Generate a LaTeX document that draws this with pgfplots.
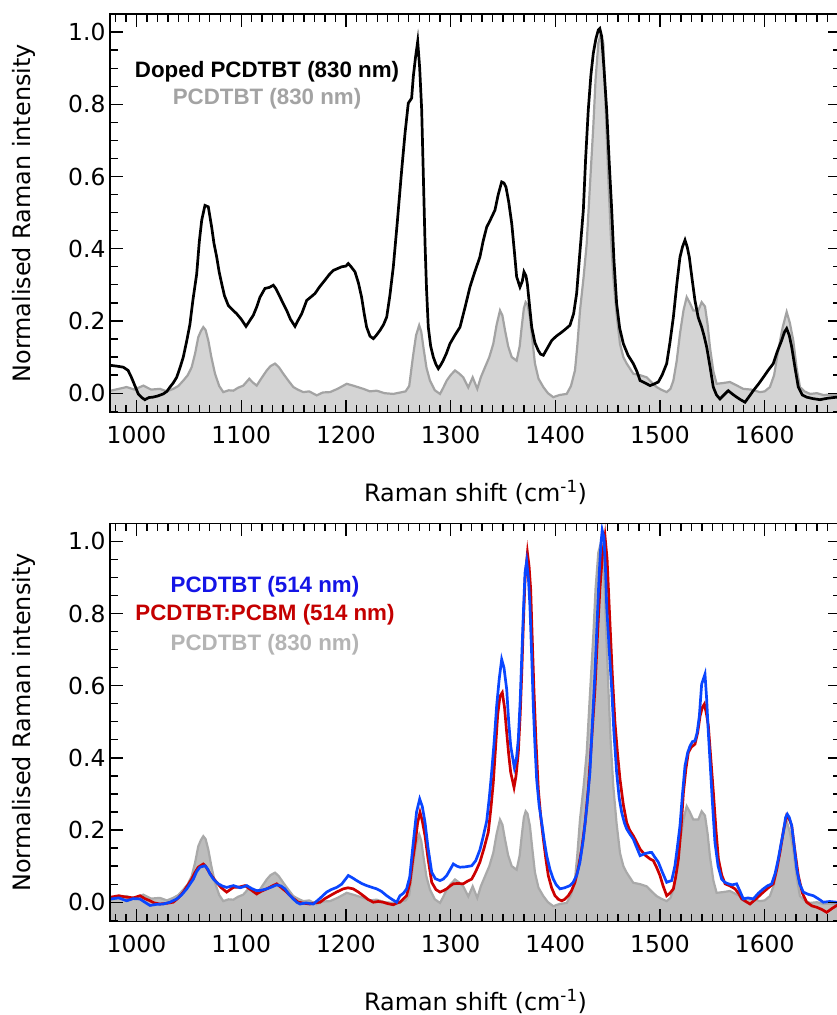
\documentclass[border=0pt]{standalone}
\usepackage{pgfplots}
\usepackage{pgfplotstable}
\pgfplotsset{compat=1.18}
\usepackage{fontspec}
\setmainfont{DejaVu Sans}
\newfontfamily\arialfont{Liberation Sans}
\definecolor{gfillT}{HTML}{D4D4D4}
\definecolor{glineT}{HTML}{A3A3A3}
\definecolor{gfillB}{HTML}{BDBDBD}
\definecolor{glineB}{HTML}{A9A9A9}
\definecolor{bline}{HTML}{0A46FF}
\definecolor{btext}{HTML}{1414E6}
\definecolor{rline}{HTML}{CC0000}
\definecolor{rtext}{HTML}{C40000}
\definecolor{gtextT}{HTML}{A3A3A3}
\definecolor{gtextB}{HTML}{B4B4B4}

\pgfplotstableread{
x y
975.6 0.007
983 0.012
990.6 0.017
998 0.010
1006.5 0.021
1014 0.010
1022.4 0.012
1029 0.005
1035.1 0.012
1040 0.020
1044.7 0.035
1049 0.050
1052.7 0.072
1056 0.110
1059 0.155
1061.5 0.172
1063.8 0.183
1066 0.175
1068.6 0.146
1071.5 0.100
1075 0.054
1079 0.020
1082.9 0.003
1088 0.008
1092.5 0.007
1097 0.015
1102 0.021
1107.7 0.040
1111 0.030
1114.8 0.021
1119 0.040
1124.4 0.063
1128 0.075
1132.3 0.082
1136 0.072
1140.2 0.054
1145 0.035
1149.8 0.017
1154 0.010
1159.3 0.003
1165 0.005
1172.1 -0.006
1178 0.002
1184.8 0.003
1192 0.012
1200.8 0.026
1208 0.020
1216.7 0.012
1223 0.005
1229.4 0.007
1237 0.000
1245.3 -0.002
1252 0.002
1257 0.005
1260.5 0.020
1264 0.100
1267 0.160
1270 0.188
1272 0.170
1274 0.128
1277 0.070
1280.3 0.035
1285 0.008
1289.9 -0.002
1293 0.015
1296.3 0.035
1300 0.050
1304.2 0.063
1308 0.055
1312.1 0.044
1316.9 0.016
1321.1 0.044
1325.5 0.012
1329 0.045
1332.9 0.072
1337 0.100
1340.8 0.137
1344 0.190
1347.2 0.229
1349.5 0.215
1352 0.174
1355 0.130
1358.4 0.100
1363.1 0.090
1366 0.130
1367.9 0.183
1370 0.235
1371.7 0.252
1373.5 0.245
1375.8 0.211
1378 0.150
1380.6 0.082
1384 0.040
1388.6 0.017
1393 0.000
1398.1 -0.011
1404 -0.005
1410.9 -0.002
1415 0.020
1418.8 0.063
1421 0.130
1423.6 0.229
1427 0.320
1430 0.414
1433 0.570
1436.3 0.738
1438.5 0.870
1441.1 0.969
1443.5 0.995
1445.9 0.970
1448 0.800
1450.6 0.600
1453 0.440
1455.4 0.322
1458.5 0.220
1461.8 0.137
1465 0.100
1468.2 0.082
1474.5 0.054
1481 0.050
1487.3 0.044
1492 0.030
1496.8 0.017
1501 0.010
1506.4 0.003
1510 0.012
1512.8 0.035
1516 0.090
1519.1 0.165
1522.5 0.230
1525.5 0.266
1528.5 0.250
1531.8 0.229
1536.6 0.229
1539.8 0.252
1543 0.240
1545.5 0.190
1547.7 0.128
1551 0.060
1554.1 0.026
1560 0.028
1566.8 0.031
1573 0.022
1579.5 0.012
1587 0.010
1595.5 0.003
1600 0.005
1605 0.017
1609 0.050
1612.9 0.118
1617 0.180
1621 0.225
1624 0.195
1627.3 0.146
1630.5 0.070
1633.7 0.017
1638 0.005
1643.3 -0.002
1650 0.000
1656 -0.005
1662 -0.004
1668.8 -0.006
1674 -0.004
}\graydata

\pgfplotstableread{
x y
975.6 0.077
981 0.075
987.4 0.072
992 0.063
995 0.045
997 0.031
1001.7 -0.002
1005 -0.012
1008 -0.018
1012 -0.012
1015.6 -0.011
1020 -0.008
1025.6 -0.002
1029 0.005
1032 0.017
1035 0.028
1038.4 0.044
1041.5 0.070
1044.7 0.100
1048 0.145
1051 0.190
1054 0.260
1057.5 0.330
1060 0.420
1062.3 0.479
1065.4 0.520
1068.6 0.516
1071.8 0.460
1074 0.415
1076.6 0.377
1079 0.335
1081.4 0.303
1084 0.270
1087.7 0.243
1092 0.230
1095.7 0.220
1100 0.205
1104.6 0.185
1108 0.200
1111.6 0.216
1115 0.240
1118 0.266
1122.7 0.290
1127 0.293
1130.7 0.299
1133 0.290
1135.5 0.276
1139 0.255
1143.5 0.229
1147 0.205
1151.4 0.185
1154 0.200
1157.8 0.220
1162.6 0.257
1166 0.265
1170.5 0.276
1175 0.295
1180 0.313
1184 0.328
1188 0.340
1192 0.345
1196 0.350
1200 0.352
1202.3 0.359
1205 0.350
1208.7 0.336
1212 0.305
1215 0.266
1217.5 0.220
1219.8 0.183
1223 0.158
1226.2 0.151
1229 0.160
1232.6 0.174
1236 0.190
1239 0.211
1242 0.270
1245.3 0.350
1249 0.470
1253.3 0.618
1256.5 0.720
1259.6 0.803
1262.8 0.817
1264.4 0.877
1266.5 0.930
1268.6 0.974
1270.5 0.900
1272.4 0.784
1274 0.600
1275.6 0.414
1277 0.290
1278.7 0.183
1281 0.130
1283.5 0.100
1286 0.080
1288.3 0.068
1291 0.080
1293 0.091
1296 0.110
1299.4 0.137
1304 0.160
1309 0.183
1314 0.240
1318.5 0.294
1323 0.335
1328 0.377
1331 0.420
1334.5 0.460
1338 0.480
1342.4 0.507
1345.5 0.550
1348.8 0.585
1351 0.582
1352.9 0.571
1355.5 0.530
1358.4 0.470
1361 0.390
1363.1 0.322
1366.3 0.294
1368.5 0.310
1370.1 0.336
1372 0.325
1373.3 0.303
1375.5 0.240
1377.5 0.183
1380.5 0.140
1383.8 0.118
1386 0.108
1388.6 0.105
1392.5 0.125
1396.6 0.146
1401 0.158
1406.2 0.169
1410 0.178
1414 0.188
1417.5 0.220
1420.4 0.276
1423.5 0.390
1426.8 0.507
1429 0.650
1431.5 0.784
1434 0.880
1436.3 0.941
1438.7 0.980
1441.1 1.006
1442.5 1.010
1444.3 0.988
1446.5 0.900
1449.1 0.784
1451.5 0.640
1453.9 0.507
1456 0.370
1458.6 0.248
1461.5 0.180
1465 0.137
1469.5 0.105
1474.5 0.082
1478 0.060
1481 0.035
1486 0.028
1490.5 0.021
1494 0.025
1498.4 0.031
1502 0.050
1506.4 0.082
1509.5 0.140
1512.8 0.211
1516 0.300
1519.1 0.377
1521.5 0.405
1523.9 0.424
1526 0.405
1528 0.377
1530.5 0.320
1533.4 0.257
1536.5 0.210
1539.8 0.183
1542 0.160
1544.6 0.128
1548 0.070
1550.9 0.017
1554 -0.005
1557.3 -0.016
1561 -0.005
1565.2 0.007
1569 -0.002
1573.3 -0.011
1577 -0.018
1581.2 -0.025
1585 -0.010
1589.1 0.007
1594 0.025
1598.7 0.044
1603 0.062
1608.2 0.082
1612 0.115
1616.2 0.146
1619 0.170
1621 0.179
1623.5 0.160
1625.8 0.128
1629 0.070
1632.1 0.017
1636 -0.005
1640.1 -0.011
1646 -0.015
1652.8 -0.018
1660 -0.014
1668.8 -0.011
1674 -0.012
}\dopeddata

\pgfplotstableread{
x y
975.6 0.009
983 0.012
990.6 0.004
997 0.010
1003.3 0.009
1008 0.000
1012.9 -0.009
1019 -0.006
1025.6 -0.005
1032 0.000
1038.4 0.009
1043 0.020
1048 0.037
1051 0.050
1054.3 0.064
1057.5 0.085
1060.6 0.097
1065.4 0.101
1068 0.092
1070.2 0.078
1074 0.062
1078.1 0.051
1082 0.045
1086.1 0.041
1092.5 0.046
1099 0.040
1105.3 0.046
1110 0.038
1114.8 0.032
1119 0.033
1124.4 0.037
1129 0.042
1133.9 0.048
1138 0.045
1141.8 0.037
1145.5 0.022
1149.8 0.009
1153 0.000
1156.2 -0.005
1162 -0.002
1168.9 -0.005
1175 0.010
1181.6 0.028
1186 0.035
1191.2 0.041
1196 0.050
1202.3 0.074
1206 0.068
1210.3 0.060
1215 0.052
1219.8 0.046
1224 0.042
1229.4 0.037
1234 0.030
1239 0.018
1244 0.008
1248.5 0.000
1251.7 0.018
1255 0.025
1258 0.037
1261 0.070
1264.4 0.166
1267.5 0.250
1270.5 0.286
1273 0.265
1275.6 0.221
1278.5 0.150
1282 0.083
1285.5 0.065
1289.9 0.060
1293 0.064
1296.3 0.074
1299.5 0.090
1302.6 0.106
1306 0.100
1309 0.097
1314 0.098
1320.2 0.101
1324 0.115
1328 0.145
1331 0.180
1334.5 0.225
1337 0.290
1339.2 0.360
1341.5 0.440
1344 0.544
1346.5 0.620
1348.8 0.673
1351 0.650
1353.6 0.590
1355.5 0.500
1357.4 0.433
1360.9 0.373
1363 0.400
1364.7 0.452
1366.5 0.560
1368 0.682
1369.5 0.800
1371.1 0.913
1372.7 0.945
1374.3 0.900
1375.8 0.820
1377.5 0.680
1379 0.544
1380.5 0.440
1382.2 0.341
1384.5 0.270
1387 0.221
1389.5 0.170
1391.8 0.129
1395 0.090
1398.1 0.064
1401 0.048
1404.5 0.037
1409 0.040
1414 0.046
1417 0.055
1420.4 0.074
1423.5 0.110
1426.8 0.175
1430 0.260
1433.1 0.360
1435.5 0.500
1437.9 0.636
1440 0.780
1442 0.913
1443.5 0.990
1444.8 1.031
1446.5 1.010
1448 0.920
1449.1 0.820
1451.5 0.700
1453.9 0.590
1456 0.470
1458.6 0.360
1461 0.290
1463.4 0.249
1466 0.220
1468.2 0.203
1471 0.190
1474.5 0.175
1478 0.150
1481 0.129
1486 0.135
1490.5 0.138
1492.1 0.138
1495 0.125
1498.4 0.111
1502 0.085
1506.4 0.055
1509 0.058
1511.2 0.060
1514.3 0.101
1516.5 0.150
1519.1 0.212
1521.5 0.300
1523.9 0.378
1526.5 0.415
1528.7 0.433
1531 0.445
1533.4 0.447
1535.5 0.470
1537.6 0.516
1539.8 0.604
1543 0.632
1544.6 0.562
1546 0.480
1547.7 0.396
1550 0.280
1552.5 0.166
1555.5 0.100
1558.9 0.064
1562 0.055
1565.2 0.051
1569 0.048
1573.2 0.051
1576.5 0.030
1579.6 0.009
1584 0.012
1589.1 0.009
1594 0.025
1598.7 0.037
1602.5 0.045
1606.7 0.051
1610 0.080
1613 0.120
1615.5 0.160
1617.8 0.194
1620 0.235
1621.6 0.244
1623.5 0.235
1625.8 0.212
1628 0.160
1630.6 0.092
1633.5 0.050
1636.9 0.028
1641.5 0.022
1646.5 0.018
1651 0.010
1656 0.000
1662 0.002
1668.8 0.000
1674 0.003
}\bluedata

\pgfplotstableread{
x y
975.6 0.014
983 0.018
990.6 0.014
997 0.012
1003.3 0.018
1008 0.010
1012.9 0.004
1017 -0.002
1022.4 -0.005
1029 -0.003
1035.1 0.000
1040 0.012
1044.7 0.028
1048.5 0.045
1052.7 0.064
1056 0.083
1059 0.097
1063.8 0.106
1066 0.100
1068.6 0.087
1072.5 0.070
1076.6 0.055
1081 0.040
1086.1 0.028
1092.5 0.041
1098 0.042
1103.6 0.046
1109 0.035
1114.8 0.023
1119 0.030
1124.4 0.037
1129 0.044
1133.9 0.051
1138.5 0.040
1143.5 0.028
1149 0.012
1154.6 0.000
1160 -0.003
1165.7 -0.005
1170 -0.002
1175.3 0.000
1180 0.010
1184.8 0.018
1191 0.028
1197.5 0.037
1202 0.040
1207 0.037
1212 0.028
1216.7 0.018
1221 0.008
1226.2 0.000
1231 0.002
1235.7 0.000
1240 -0.004
1245.3 -0.007
1249 -0.002
1251.7 0.000
1254.8 0.009
1258 0.018
1261.2 0.055
1264 0.120
1266.5 0.170
1268.5 0.220
1270.8 0.249
1273 0.225
1275.6 0.184
1278.5 0.120
1282 0.055
1286 0.035
1289.9 0.028
1293 0.032
1296.3 0.037
1299.5 0.045
1302.6 0.051
1307 0.052
1312.1 0.051
1316 0.058
1320.2 0.064
1324 0.085
1328 0.111
1332 0.150
1336 0.194
1338.5 0.260
1340.8 0.332
1343 0.430
1345 0.520
1347.2 0.571
1349.4 0.581
1351.5 0.540
1353.6 0.470
1355.5 0.410
1357.4 0.360
1360.6 0.318
1362.5 0.350
1364.7 0.415
1366.5 0.520
1368 0.636
1369.5 0.770
1371.1 0.894
1373.4 0.968
1375 0.930
1376.5 0.867
1378 0.730
1379.6 0.590
1381.5 0.450
1383.8 0.313
1386 0.240
1388.6 0.175
1391 0.120
1393.3 0.074
1396.5 0.040
1399.7 0.018
1403 0.008
1406.1 0.004
1409 0.008
1412.4 0.018
1415.5 0.032
1418.8 0.055
1422 0.095
1425.2 0.147
1428.5 0.220
1431.5 0.313
1434.5 0.440
1437.9 0.590
1440.5 0.750
1442.6 0.867
1445 0.960
1447.5 1.014
1449.5 0.950
1452.2 0.775
1454.5 0.630
1457 0.498
1459.5 0.410
1461.8 0.341
1465 0.270
1468.2 0.221
1471 0.200
1474.5 0.184
1478 0.165
1481 0.147
1486 0.130
1490.5 0.120
1493.7 0.115
1497 0.095
1500 0.074
1503 0.045
1506.4 0.018
1509.5 0.025
1512.8 0.037
1515 0.070
1517.6 0.120
1520 0.200
1522.4 0.304
1524.8 0.370
1527.1 0.415
1530 0.430
1533.4 0.438
1536 0.470
1538.3 0.516
1540.5 0.540
1542.4 0.549
1544.5 0.520
1546.2 0.489
1548.5 0.400
1551 0.304
1553.5 0.200
1555.8 0.120
1559 0.075
1562.2 0.051
1567 0.045
1571.7 0.037
1575 0.025
1578.1 0.009
1582 0.002
1586 -0.005
1592 0.010
1598.7 0.028
1603.5 0.040
1608.2 0.051
1611.5 0.090
1614.6 0.138
1618 0.200
1621 0.240
1623.5 0.230
1625.8 0.212
1628.5 0.150
1632.1 0.074
1636 0.025
1640.1 0.000
1645 -0.010
1649.7 -0.014
1654.5 -0.020
1659.2 -0.028
1664 -0.018
1668.8 -0.009
1674 -0.012
}\reddata

\pgfplotsset{
  ramanaxis/.style={
    scale only axis,
    width=731bp,
    xmin=974.7, xmax=1672.9,
    ymin=-0.054, ymax=1.05,
    xtick={900,1000,1100,1200,1300,1400,1500,1600,1700},
    ytick={-0.2,0,0.2,0.4,0.6,0.8,1.0,1.2},
    minor x tick num=9,
    minor y tick num=3,
    xtick pos=both, ytick pos=both,
    xticklabel pos=lower, yticklabel pos=left,
    tick align=inside,
    major tick length=13bp,
    minor tick length=8bp,
    axis line style={line width=1.5bp, black},
    every tick/.style={black, line width=1.3bp},
    axis on top,
    /pgf/number format/assume math mode=true,
    xticklabel style={font=\fontsize{23.5}{28}\selectfont, yshift=-10bp,
      /pgf/number format/.cd, fixed, precision=0, 1000 sep={}},
    yticklabel style={font=\fontsize{23.5}{28}\selectfont, xshift=-1bp,
      /pgf/number format/.cd, fixed, fixed zerofill, precision=1},
    xlabel={Raman shift (cm\textsuperscript{-1})},
    ylabel={Normalised Raman intensity},
    xlabel style={font=\fontsize{24}{28}\selectfont, at={(axis description cs:0.5,0)}, anchor=center, yshift=-80bp},
    ylabel style={font=\fontsize{24}{28}\selectfont, at={(axis description cs:0,0.5)}, anchor=center, rotate=0, xshift=0bp, yshift=86bp},
  }
}

\begin{document}
\begin{tikzpicture}
\path[use as bounding box] (0,0) rectangle (837bp,1015bp);

\begin{axis}[ramanaxis, at={(110bp,602.3bp)}, anchor=south west, height=398.7bp]
\addplot[fill=gfillT, draw=none] table[x=x,y=y] {\graydata} -- (axis cs:1674,-0.2) -- (axis cs:975.6,-0.2) -- cycle;
\addplot[color=glineT, line width=2.2bp] table[x=x,y=y] {\graydata};
\addplot[color=black, line width=2.7bp] table[x=x,y=y] {\dopeddata};
\node[anchor=base, font=\arialfont\bfseries\fontsize{22.4}{26}\selectfont, text=black] at (rel axis cs:0.2148,0.8402) {Doped PCDTBT (830 nm)};
\node[anchor=base, font=\arialfont\bfseries\fontsize{22.4}{26}\selectfont, text=gtextT] at (rel axis cs:0.2148,0.7735) {PCDTBT (830 nm)};
\end{axis}

\begin{axis}[ramanaxis, at={(110bp,93.3bp)}, anchor=south west, height=398.4bp]
\addplot[fill=gfillB, draw=none] table[x=x,y=y] {\graydata} -- (axis cs:1674,-0.2) -- (axis cs:975.6,-0.2) -- cycle;
\addplot[color=glineB, line width=2.2bp] table[x=x,y=y] {\graydata};
\addplot[color=rline, line width=2.7bp] table[x=x,y=y] {\reddata};
\addplot[color=bline, line width=2.7bp] table[x=x,y=y] {\bluedata};
\node[anchor=base, font=\arialfont\bfseries\fontsize{22.4}{26}\selectfont, text=btext] at (rel axis cs:0.212,0.8258) {PCDTBT (514 nm)};
\node[anchor=base, font=\arialfont\bfseries\fontsize{22.4}{26}\selectfont, text=rtext] at (rel axis cs:0.212,0.7550) {PCDTBT:PCBM (514 nm)};
\node[anchor=base, font=\arialfont\bfseries\fontsize{22.4}{26}\selectfont, text=gtextB] at (rel axis cs:0.212,0.6795) {PCDTBT (830 nm)};
\end{axis}
\end{tikzpicture}
\end{document}
